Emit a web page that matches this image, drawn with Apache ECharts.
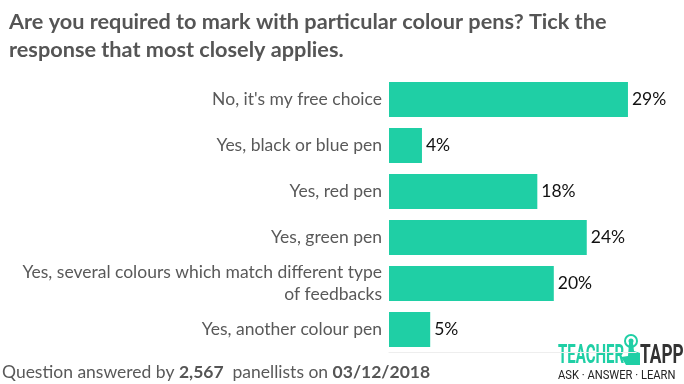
<!DOCTYPE html>
<html><head><meta charset="utf-8">
<script src="https://cdn.jsdelivr.net/npm/echarts@6/dist/echarts.min.js"></script>
<style>html,body{margin:0;padding:0;background:#fff}#c{width:684px;height:384px}</style>
</head><body><div id="c"></div>
<script>
const categories = ["No, it's my free choice", "Yes, black or blue pen", "Yes, red pen", "Yes, green pen", "Yes, several colours which match different type\nof feedbacks", "Yes, another colour pen"];
const values = [29, 4, 18, 24, 20, 5];
const titleText = "Are you required to mark with particular colour pens? Tick the\nresponse that most closely applies.";
const respondents = "2,567";
const surveyDate = "03/12/2018";

const chart = echarts.init(document.getElementById('c'), null, {renderer: 'canvas'});
chart.setOption({
  animation: false,
  backgroundColor: '#fff',
  title: {
    text: titleText,
    left: 4, top: 3,
    textStyle: {fontFamily: 'Lato', fontWeight: 'bold', fontSize: 21.7, color: '#555555', lineHeight: 28}
  },
  grid: {left: 389, top: 76.5, width: 247.2, height: 276},
  xAxis: {
    type: 'value', min: 0, max: 30,
    axisLabel: {show: false}, splitLine: {show: false}, axisTick: {show: false},
    axisLine: {show: true, lineStyle: {color: '#eeeeee', width: 1}}
  },
  yAxis: {
    type: 'category', data: categories, inverse: true,
    axisLine: {show: false}, axisTick: {show: false},
    axisLabel: {fontFamily: 'Lato', fontSize: 17.5, color: '#595959', margin: 7, lineHeight: 22, align: 'right'}
  },
  series: [{
    type: 'bar', data: values, barWidth: 35,
    itemStyle: {color: '#1fcfa5'},
    label: {show: true, position: 'right', distance: 4, formatter: '{c}%', fontFamily: 'Lato', fontSize: 17.5, color: '#111'}
  }],
  graphic: [
    {type: 'text', left: 2, top: 363, style: {
      text: '{n|Question answered by }{b|' + respondents + '}{n|  panellists on }{b|' + surveyDate + '}',
      rich: {
        n: {fontFamily: 'Lato', fontSize: 17.5, fill: '#595959'},
        b: {fontFamily: 'Lato', fontSize: 17.5, fontWeight: 'bold', fill: '#555555'}
      }
    }},
    {type: 'text', x: 558, y: 344, scaleX: 0.6, style: {
      text: 'TEACHER', fontFamily: 'Roboto', fontWeight: 'bold', fontSize: 25, fill: '#1fcfa5', verticalAlign: 'top'
    }},
    {type: 'text', x: 640, y: 344, scaleX: 0.69, style: {
      text: 'TAPP', fontFamily: 'Roboto', fontWeight: 'bold', fontSize: 25, fill: '#333', verticalAlign: 'top'
    }},
    {type: 'circle', shape: {cx: 631, cy: 341, r: 6}, style: {fill: 'none', stroke: '#1fcfa5', lineWidth: 2}},
    {type: 'circle', shape: {cx: 631, cy: 341, r: 2.5}, style: {fill: '#1fcfa5'}},
    {type: 'polygon', shape: {points: [[629,343],[633,343],[634,351],[640,353],[640,365],[626,365],[621,357],[628,356]]}, style: {fill: '#1fcfa5'}},
    {type: 'text', x: 558, y: 369, scaleX: 0.86, style: {
      text: 'ASK · ANSWER · LEARN', fontFamily: 'Roboto', fontSize: 13, fill: '#222', verticalAlign: 'top'
    }}
  ]
});
</script></body></html>
